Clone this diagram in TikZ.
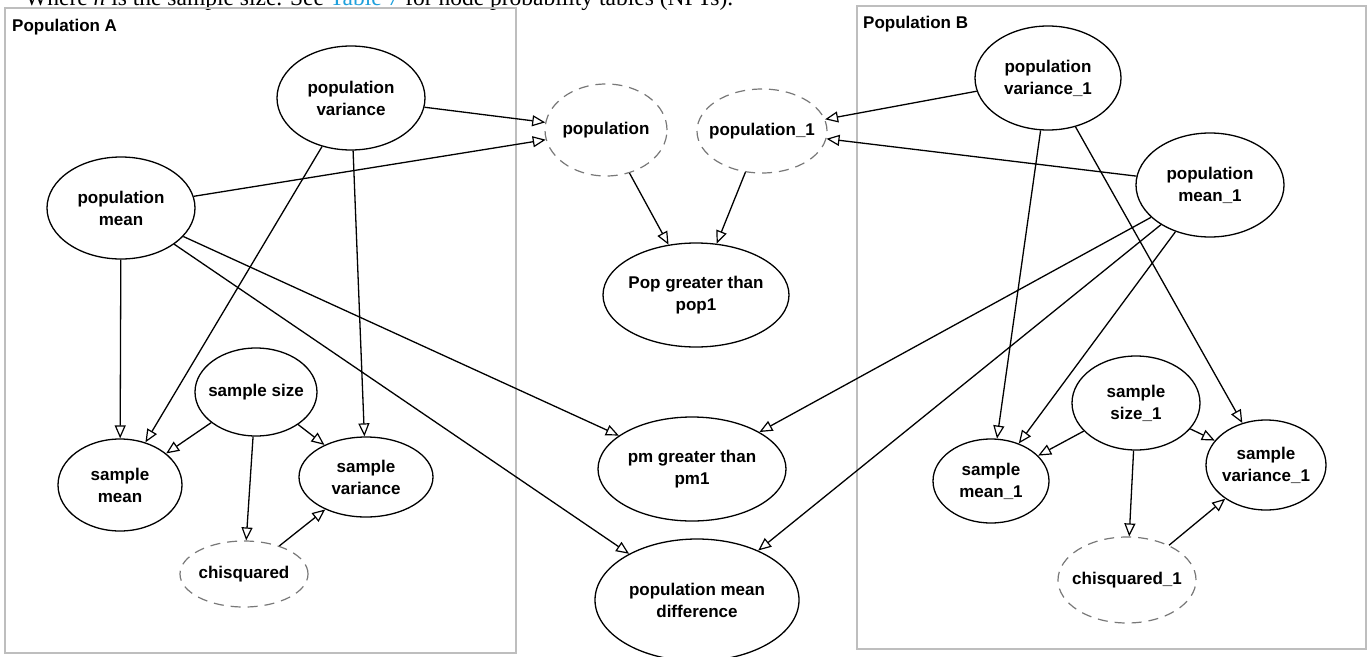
\documentclass[tikz,border=0pt]{standalone}
\usepackage{fontspec}
\setmainfont{Liberation Serif}
\newfontfamily\arialb{Liberation Sans}
\usetikzlibrary{arrows.meta,shapes.geometric}
\definecolor{boxgray}{RGB}{190,190,190}
\definecolor{dashgray}{RGB}{120,120,120}
\definecolor{linkblue}{RGB}{30,160,220}
\tikzset{
 bn/.style={ellipse, draw=black, line width=1.3pt, fill=white, inner sep=0pt},
 hid/.style={ellipse, draw=dashgray, line width=1.2pt, dash pattern=on 10pt off 7pt, fill=white, inner sep=0pt},
 lbl/.style={font=\arialb\bfseries\fontsize{17}{22}\selectfont, align=center, inner sep=0pt},
 ttl/.style={font=\arialb\bfseries\fontsize{17}{22}\selectfont, inner sep=0pt, anchor=west},
 arr/.style={draw=black, line width=1.3pt, -{Triangle[open, length=13pt, width=11pt, line width=1.2pt]}},
 plate/.style={draw=boxgray, line width=1.6pt},
}
\begin{document}
\begin{tikzpicture}[x=1pt,y=-1pt]
\useasboundingbox (0,0) rectangle (1370,656);
\clip (0,0) rectangle (1370,656);
\node[anchor=base west, font=\fontsize{23.5}{28}\selectfont, inner sep=0pt] (intro) at (25,5) {Where \textit{n} is the sample size. See \textcolor{linkblue}{Table 7} for node probability tables (NPTs).};
% plates
\draw[plate] (5,8) rectangle (516,653);
\draw[plate] (857,6) rectangle (1366,649);
\node[ttl] (ta) at (12,27) {Population A};
\node[ttl] (tb) at (863,24) {Population B};
% nodes
\node[bn, minimum width=148pt, minimum height=104pt] (popvar) at (351,98) {};
\node[lbl] (popvarT) at (popvar) {population\\variance};
\node[bn, minimum width=148pt, minimum height=102pt] (popmean) at (121,208) {};
\node[lbl] (popmeanT) at (popmean) {population\\mean};
\node[hid, minimum width=122pt, minimum height=92pt] (population) at (606,130) {};
\node[lbl] (populationT) at (population) {population};
\node[hid, minimum width=130pt, minimum height=84pt] (population1) at (762,131) {};
\node[lbl] (population1T) at (population1) {population\_1};
\node[bn, minimum width=186pt, minimum height=104pt] (popgt) at (696,295) {};
\node[lbl] (popgtT) at (popgt) {Pop greater than\\pop1};
\node[bn, minimum width=188pt, minimum height=104pt] (pmgt) at (692,469) {};
\node[lbl] (pmgtT) at (pmgt) {pm greater than\\pm1};
\node[bn, minimum width=204pt, minimum height=122pt] (pmd) at (697,600) {};
\node[lbl] (pmdT) at (pmd) {population mean\\difference};
\node[bn, minimum width=122pt, minimum height=88pt] (ss) at (256,392) {};
\node[lbl] (ssT) at (ss) {sample size};
\node[bn, minimum width=124pt, minimum height=92pt] (sm) at (120,485) {};
\node[lbl] (smT) at (sm) {sample\\mean};
\node[bn, minimum width=134pt, minimum height=80pt] (sv) at (366,477) {};
\node[lbl] (svT) at (sv) {sample\\variance};
\node[hid, minimum width=128pt, minimum height=66pt] (chi) at (244,574) {};
\node[lbl] (chiT) at (chi) {chisquared};
\node[bn, minimum width=146pt, minimum height=104pt] (popvar1) at (1048,78) {};
\node[lbl] (popvar1T) at (popvar1) {population\\variance\_1};
\node[bn, minimum width=148pt, minimum height=104pt] (popmean1) at (1210,185) {};
\node[lbl] (popmean1T) at (popmean1) {population\\mean\_1};
\node[bn, minimum width=128pt, minimum height=94pt] (ss1) at (1136,403) {};
\node[lbl] (ss1T) at (ss1) {sample\\size\_1};
\node[bn, minimum width=116pt, minimum height=84pt] (sm1) at (991,481) {};
\node[lbl] (sm1T) at (sm1) {sample\\mean\_1};
\node[bn, minimum width=120pt, minimum height=90pt] (sv1) at (1266,465) {};
\node[lbl] (sv1T) at (sv1) {sample\\variance\_1};
\node[hid, minimum width=138pt, minimum height=86pt] (chi1) at (1127,580) {};
\node[lbl] (chi1T) at (chi1) {chisquared\_1};
% edges A
\draw[arr] (popvar) -- (population);
\draw[arr] (popmean) -- (population);
\draw[arr] (popvar) -- (sm);
\draw[arr] (popvar) -- (sv);
\draw[arr] (popmean) -- (sm);
\draw[arr] (popmean) -- (pmgt);
\draw[arr] (popmean) -- (pmd);
\draw[arr] (ss) -- (sm);
\draw[arr] (ss) -- (sv);
\draw[arr] (ss) -- (chi);
\draw[arr] (chi) -- (sv);
% middle
\draw[arr] (population) -- (popgt);
\draw[arr] (population1) -- (popgt);
% edges B
\draw[arr] (popvar1) -- (population1);
\draw[arr] (popmean1) -- (population1);
\draw[arr] (popvar1) -- (sm1);
\draw[arr] (popvar1) -- (sv1);
\draw[arr] (popmean1) -- (pmgt);
\draw[arr] (popmean1) -- (pmd);
\draw[arr] (popmean1) -- (sm1);
\draw[arr] (ss1) -- (sm1);
\draw[arr] (ss1) -- (sv1);
\draw[arr] (ss1) -- (chi1);
\draw[arr] (chi1) -- (sv1);
\end{tikzpicture}
\end{document}
